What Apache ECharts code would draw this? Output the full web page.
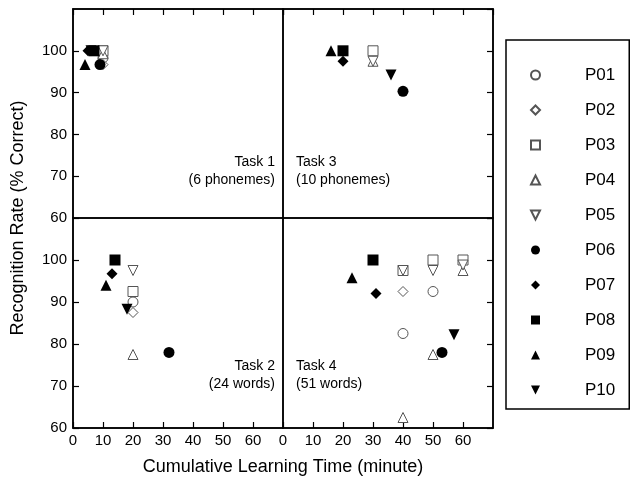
<!DOCTYPE html>
<html>
<head>
<meta charset="utf-8">
<script src="https://cdn.jsdelivr.net/npm/echarts@6/dist/echarts.min.js"></script>
<style>
  html, body { margin: 0; padding: 0; background: #fff; }
  #chart { width: 635px; height: 483px; }
</style>
</head>
<body>
<div id="chart"></div>
<script>
// panels: 0 = Task 1 (top-left), 1 = Task 3 (top-right), 2 = Task 2 (bottom-left), 3 = Task 4 (bottom-right)
const participants = ['P01', 'P02', 'P03', 'P04', 'P05', 'P06', 'P07', 'P08', 'P09', 'P10'];
const DOWN = 'path://M0,0L10,0L5,10Z';
const symbols = ['circle', 'diamond', 'rect', 'triangle', DOWN, 'circle', 'diamond', 'rect', 'triangle', DOWN];
const filled = [false, false, false, false, false, true, true, true, true, true];

// [panel, cumulative minutes, % correct]
const P01 = [[0, 10, 98.3], [2, 20, 90], [3, 40, 82.5], [3, 50, 92.5]];
const P02 = [[0, 10, 96.7], [2, 20, 87.5], [3, 40, 92.5]];
const P03 = [[0, 10, 100], [1, 30, 100], [2, 20, 92.5], [3, 40, 97.5], [3, 50, 100], [3, 60, 100]];
const P04 = [[0, 10, 99.3], [1, 30, 97.5], [2, 20, 77.5], [3, 40, 62.5], [3, 50, 77.5], [3, 60, 97.5]];
const P05 = [[0, 10, 100], [1, 30, 97.5], [2, 20, 97.5], [3, 40, 97.5], [3, 50, 97.5], [3, 60, 98.8]];
const P06 = [[0, 9, 96.7], [1, 40, 90.3], [2, 32, 78], [3, 53, 78]];
const P07 = [[0, 5, 100], [1, 20, 97.5], [2, 13, 96.7], [3, 31, 92]];
const P08 = [[0, 7, 100], [1, 20, 100], [2, 14, 100], [3, 30, 100]];
const P09 = [[0, 4, 96.7], [1, 16, 100], [2, 11, 94], [3, 23, 95.8]];
const P10 = [[0, 6, 100], [1, 36, 94.2], [2, 18, 88.3], [3, 57, 82.2]];
const points = [P01, P02, P03, P04, P05, P06, P07, P08, P09, P10];

const taskLabels = ['Task 1\n(6 phonemes)', 'Task 3\n(10 phonemes)', 'Task 2\n(24 words)', 'Task 4\n(51 words)'];

const FONT = '"Liberation Sans", Arial, sans-serif';
const grids = [
  { left: 73, top: 9, width: 210, height: 209 },
  { left: 283, top: 9, width: 210, height: 209 },
  { left: 73, top: 218, width: 210, height: 210 },
  { left: 283, top: 218, width: 210, height: 210 }
];

const axisLine = { show: true, onZero: false, lineStyle: { color: '#000', width: 1.5 } };
const axisTick = { show: true, inside: true, length: 6, lineStyle: { color: '#000', width: 1.2 } };

const xAxes = grids.map((g, i) => ({
  gridIndex: i, type: 'value', min: 0, max: 70, interval: 10,
  position: i < 2 ? 'top' : 'bottom',
  axisLine, axisTick,
  axisLabel: { show: i >= 2, showMaxLabel: false, color: '#000', fontSize: 15, fontFamily: FONT, margin: 5 },
  splitLine: { show: false }
}));

const yAxes = grids.map((g, i) => ({
  gridIndex: i, type: 'value', min: 60, max: 110, interval: 10,
  position: i % 2 === 0 ? 'left' : 'right',
  axisLine, axisTick,
  axisLabel: { show: i % 2 === 0, showMaxLabel: false, color: '#000', fontSize: 15, fontFamily: FONT, margin: 6 },
  splitLine: { show: false }
}));

const series = [];
participants.forEach((name, p) => {
  for (let panel = 0; panel < 4; panel++) {
    const data = points[p].filter(d => d[0] === panel).map(d => [d[1], d[2]]);
    series.push({
      name, type: 'scatter', xAxisIndex: panel, yAxisIndex: panel,
      symbol: symbols[p], symbolSize: filled[p] ? 11 : 10,
      itemStyle: filled[p]
        ? { color: '#000', borderColor: '#000', borderWidth: 0, opacity: 1 }
        : { color: '#fff', borderColor: '#555', borderWidth: 1, opacity: 1 },
      emphasis: { disabled: true },
      data
    });
  }
});

const taskGraphics = taskLabels.map((t, i) => {
  const right = i % 2 === 0;
  return {
    type: 'text',
    x: right ? 275 : 296,
    y: i < 2 ? 153 : 357,
    style: { text: t, font: '14px ' + FONT, fill: '#000', textAlign: right ? 'right' : 'left', lineHeight: 18 }
  };
});

const chart = echarts.init(document.getElementById('chart'));
chart.setOption({
  backgroundColor: '#fff',
  animation: false,
  grid: grids.map(g => Object.assign({ show: true, borderColor: '#000', borderWidth: 1.5, backgroundColor: 'transparent' }, g)),
  xAxis: xAxes,
  yAxis: yAxes,
  legend: {
    orient: 'vertical', left: 506, top: 40,
    data: participants,
    itemWidth: 9, itemHeight: 9, itemGap: 15,
    padding: [25, 14, 9, 24],
    borderColor: '#000', borderWidth: 1.5,
    selectedMode: false,
    textStyle: { fontSize: 17, lineHeight: 20, color: '#000', fontFamily: FONT, padding: [0, 0, 0, 40] }
  },
  graphic: [
    {
      type: 'text', x: 283, y: 467,
      style: { text: 'Cumulative Learning Time (minute)', font: '18px ' + FONT, fill: '#000', textAlign: 'center', textVerticalAlign: 'middle' }
    },
    {
      type: 'text', x: 18, y: 218, rotation: Math.PI / 2,
      style: { text: 'Recognition Rate (% Correct)', font: '18px ' + FONT, fill: '#000', textAlign: 'center', textVerticalAlign: 'middle' }
    }
  ].concat(taskGraphics),
  series
});
</script>
</body>
</html>
